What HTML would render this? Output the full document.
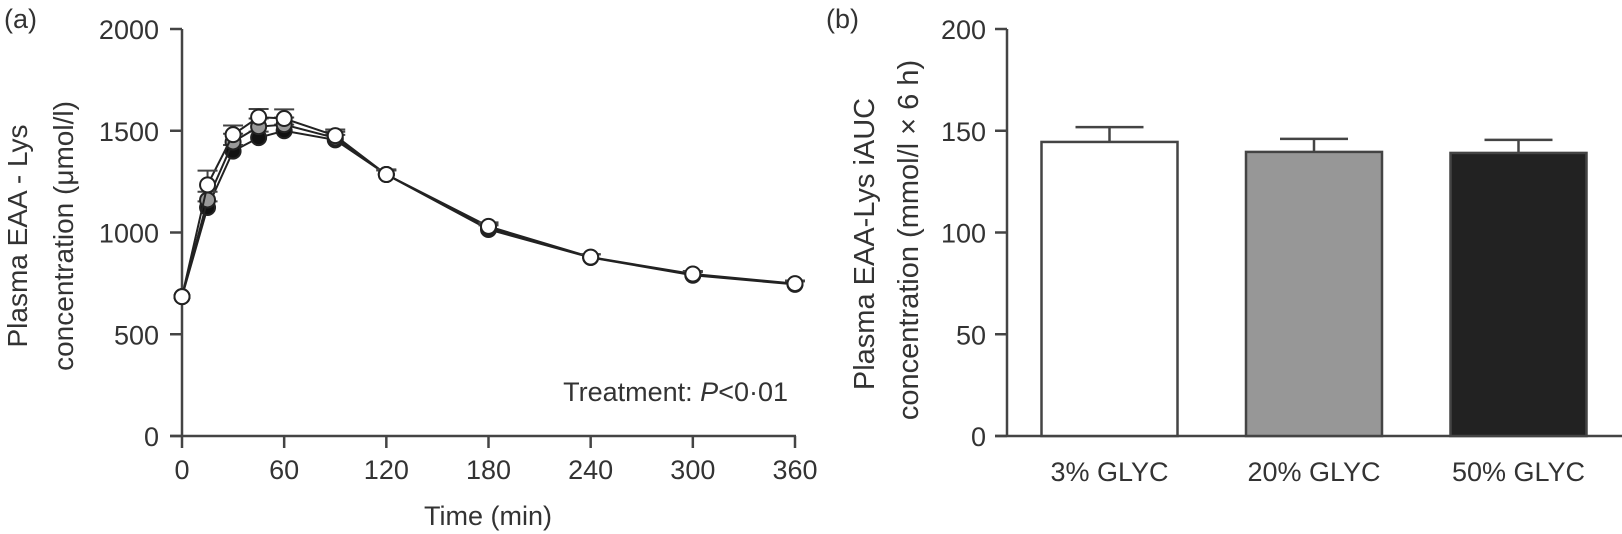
<!DOCTYPE html>
<html><head><meta charset="utf-8"><style>
body{margin:0;background:#fff;}
svg{display:block;font-family:"Liberation Sans",Arial,sans-serif;}
</style></head><body>
<svg id="chart" width="1622" height="534" viewBox="0 0 1622 534" xmlns="http://www.w3.org/2000/svg">
<g id="pa"></g>
<g id="pb"></g>
</svg>
<script>
const times=[0,15,30,45,60,90,120,180,240,300,360];
const black=[685,1123,1400,1466,1500,1455,1285,1015,877,790,745];
const grey=[685,1160,1445,1520,1530,1465,1285,1022,878,793,747];
const open=[685,1234,1481,1567,1560,1476,1285,1030,879,796,749];
const blackErr=[0,30,30,30,30,25,20,20,15,15,15];
const greyErr=[0,40,40,40,35,30,20,20,15,15,15];
const openErr=[0,70,45,40,45,30,25,20,15,15,15];
const xTicksA=[0,60,120,180,240,300,360];
const yTicksA=[0,500,1000,1500,2000];
const barCats=["3% GLYC","20% GLYC","50% GLYC"];
const barVals=[144.5,139.6,139.1];
const barErrs=[7.3,6.4,6.4];
const barFills=["#ffffff","#979797","#222222"];
const yTicksB=[0,50,100,150,200];

const NS="http://www.w3.org/2000/svg";
function mk(parent,tag,attrs,text){const e=document.createElementNS(NS,tag);for(const k in attrs)e.setAttribute(k,attrs[k]);if(text!==undefined)e.textContent=text;parent.appendChild(e);return e;}
const C="#444";
const FS=27;
const Y0=436, YTOP=29;
// Panel A
const pa=document.getElementById('pa');
const xA=t=>182+t*(795-182)/360;
const yA=v=>Y0-v*(Y0-YTOP)/2000;
let e;
e=mk(pa,'line',{x1:182,y1:yA(2000),x2:182,y2:Y0,stroke:C,'stroke-width':2.5});

e=mk(pa,'line',{x1:170,y1:Y0,x2:xA(360)+1,y2:Y0,stroke:C,'stroke-width':2.5});

yTicksA.forEach(v=>{
 mk(pa,'line',{x1:170,y1:yA(v),x2:182,y2:yA(v),stroke:C,'stroke-width':2.5});
 e=mk(pa,'text',{x:159,y:yA(v)+10,'text-anchor':'end','font-size':FS,fill:'#333'},String(v));
 
});
xTicksA.forEach(t=>{
 mk(pa,'line',{x1:xA(t),y1:Y0,x2:xA(t),y2:Y0+12,stroke:C,'stroke-width':2.5});
 e=mk(pa,'text',{x:xA(t),y:479,'text-anchor':'middle','font-size':FS,fill:'#333'},String(t));
 
});
function series(vals,errs,fill,name){
 const g=mk(pa,'g',{});
 
 mk(g,'polyline',{points:vals.map((v,i)=>xA(times[i])+','+yA(v)).join(' '),fill:'none',stroke:'#222','stroke-width':2});
 vals.forEach((v,i)=>{if(errs[i]>0){const x=xA(times[i]);mk(g,'line',{x1:x,y1:yA(v),x2:x,y2:yA(v+errs[i]),stroke:'#444','stroke-width':2});mk(g,'line',{x1:x-10,y1:yA(v+errs[i]),x2:x+10,y2:yA(v+errs[i]),stroke:'#444','stroke-width':2});}});
 vals.forEach((v,i)=>{const c=mk(g,'circle',{cx:xA(times[i]),cy:yA(v),r:7.5,fill:fill,stroke:'#222','stroke-width':2});
  });
}
series(black,blackErr,'#111','series-50-glyc');
series(grey,greyErr,'#999','series-20-glyc');
series(open,openErr,'#fff','series-3-glyc');
e=mk(pa,'text',{x:4,y:28,'font-size':FS,fill:'#333'},'(a)');
e=mk(pa,'text',{transform:'translate(27,236) rotate(-90)','text-anchor':'middle','font-size':28,fill:'#333'},'Plasma EAA - Lys');
e=mk(pa,'text',{transform:'translate(73,236) rotate(-90)','text-anchor':'middle','font-size':28,fill:'#333'},'concentration (μmol/l)');
e=mk(pa,'text',{x:488,y:525,'text-anchor':'middle','font-size':FS,fill:'#333'},'Time (min)');
e=mk(pa,'text',{x:788,y:401,'text-anchor':'end','font-size':FS,fill:'#333'});
e.innerHTML='Treatment: <tspan font-style="italic">P</tspan>&lt;0·01';

// Panel B
const pb=document.getElementById('pb');
const yB=v=>Y0-v*(Y0-YTOP)/200;
const barX=[1109.5,1314,1518.5];const bw=136;
e=mk(pb,'line',{x1:1007,y1:yB(200),x2:1007,y2:Y0,stroke:C,'stroke-width':2.5});
e=mk(pb,'line',{x1:995,y1:Y0,x2:1622,y2:Y0,stroke:C,'stroke-width':2.5});
yTicksB.forEach(v=>{
 mk(pb,'line',{x1:995,y1:yB(v),x2:1007,y2:yB(v),stroke:C,'stroke-width':2.5});
 e=mk(pb,'text',{x:986,y:yB(v)+10,'text-anchor':'end','font-size':FS,fill:'#333'},String(v));
 
});
barCats.forEach((c,i)=>{
 const cx=barX[i];
 e=mk(pb,'line',{x1:cx,y1:yB(barVals[i]),x2:cx,y2:yB(barVals[i]+barErrs[i]),stroke:C,'stroke-width':2.5});
 mk(pb,'line',{x1:cx-34,y1:yB(barVals[i]+barErrs[i]),x2:cx+34,y2:yB(barVals[i]+barErrs[i]),stroke:C,'stroke-width':2.5});
 e=mk(pb,'rect',{x:cx-bw/2,y:yB(barVals[i]),width:bw,height:Y0-yB(barVals[i]),fill:barFills[i],stroke:C,'stroke-width':2.5});
 
 e=mk(pb,'text',{x:cx,y:481,'text-anchor':'middle','font-size':FS,fill:'#333'},c);
 
});
e=mk(pb,'text',{x:826,y:28,'font-size':FS,fill:'#333'},'(b)');
e=mk(pb,'text',{transform:'translate(874,244) rotate(-90)','text-anchor':'middle','font-size':29,fill:'#333'},'Plasma EAA-Lys iAUC');
e=mk(pb,'text',{transform:'translate(918,240) rotate(-90)','text-anchor':'middle','font-size':29,fill:'#333'},'concentration (mmol/l × 6 h)');
</script>
</body></html>
